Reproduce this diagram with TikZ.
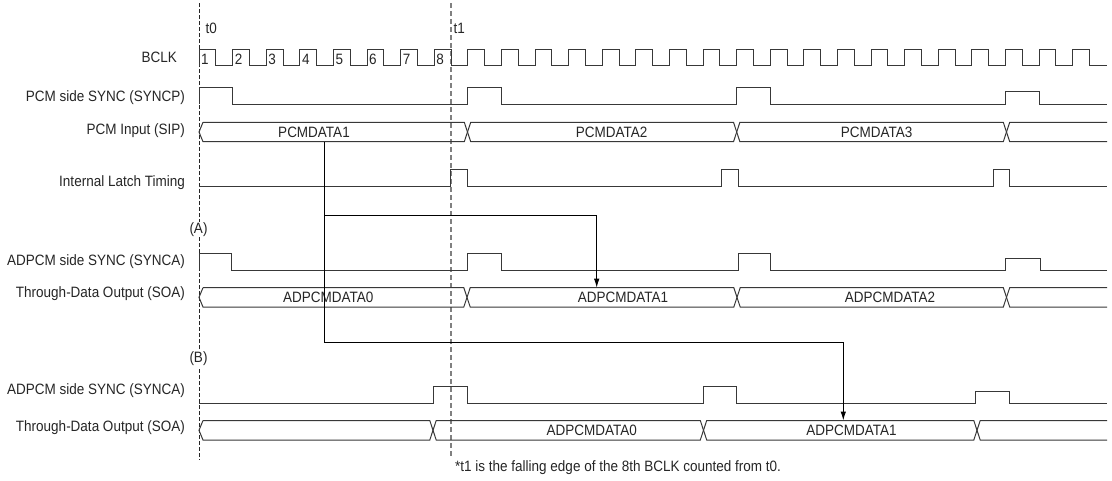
\documentclass[tikz,border=0pt]{standalone}
\usepackage{fontspec}
\setmainfont{Liberation Sans}[FakeStretch=0.9]
\usetikzlibrary{arrows.meta}
\newcommand{\lblfont}{\fontsize{15}{17}\selectfont}
\tikzset{
  sig/.style={line width=1pt, draw=black!78, line join=miter},
  lbl/.style={font=\lblfont, anchor=base east, inner sep=0pt, text=black!85},
  txt/.style={font=\lblfont, inner sep=0pt, text=black!85},
  num/.style={font=\lblfont, anchor=base west, inner sep=0pt, text=black!85},
  conn/.style={line width=1pt, draw=black, -{Latex[length=9pt,width=5.5pt]}},
  tzero/.style={line width=0.9pt, draw=black!85, dash pattern=on 4pt off 2pt},
  tone/.style={line width=1.2pt, draw=black!50, dash pattern=on 5pt off 3pt},
}
\begin{document}
\begin{tikzpicture}[x=1pt,y=-1pt]
\useasboundingbox[fill=white] (0,0) rectangle (1112,480);

% time markers
\coordinate (t0top) at (199,3);
\coordinate (t0bot) at (199,460);
\coordinate (t1top) at (451,3);
\coordinate (t1bot) at (451,458);
\draw[tzero] (t0top) -- (t0bot);
\draw[tone] (t1top) -- (t1bot);
\node[txt, anchor=base west] (t0) at (205.5,33) {t0};
\node[txt, anchor=base west] (t1) at (453.5,33) {t1};

% labels
\node[lbl] (lbclk) at (177,62.7) {BCLK};
\node[lbl] (lsyncp) at (185,101.5) {PCM side SYNC (SYNCP)};
\node[lbl] (lsip) at (185,134.5) {PCM Input (SIP)};
\node[lbl] (llatch) at (185,186.7) {Internal Latch Timing};
\node[lbl] (lsynca) at (185,265.5) {ADPCM side SYNC (SYNCA)};
\node[lbl] (lsoa) at (185,297.5) {Through-Data Output (SOA)};
\node[lbl] (lsyncb) at (185,394) {ADPCM side SYNC (SYNCA)};
\node[lbl] (lsob) at (185,431) {Through-Data Output (SOA)};

% BCLK
\draw[sig] (199,65.7) \foreach \k in {0,...,26} { -- ({199+\k*33.6},65.7) -- ({199+\k*33.6},49) -- ({215.8+\k*33.6},49) -- ({215.8+\k*33.6},65.7) } -- (1107,65.7);
\foreach \k in {1,...,8} \node[num] (n\k) at ({199+(\k-1)*33.6+2},64) {\k};

% SYNCP
\draw[sig] (199,104) -- (199,87) -- (232,87) -- (232,104) -- (467.5,104) -- (467.5,87) -- (501,87) -- (501,104)
  -- (736.7,104) -- (736.7,87) -- (770,87) -- (770,104) -- (1005.7,104) -- (1005.7,91.7) -- (1039.3,91.7) -- (1039.3,104) -- (1107,104);

% PCM input bus
\draw[sig] (203,122.3) -- (199,132) -- (203,141.7) -- (464.3,141.7) -- (470.7,122.3) -- (733.5,122.3) -- (739.9,141.7) -- (1003.3,141.7) -- (1009.7,122.3) -- (1107,122.3);
\draw[sig] (203,122.3) -- (464.3,122.3) -- (470.7,141.7) -- (733.5,141.7) -- (739.9,122.3) -- (1003.3,122.3) -- (1009.7,141.7) -- (1107,141.7);
\node[txt] (pcm1) at (314,132) {PCMDATA1};
\node[txt] (pcm2) at (611.7,132) {PCMDATA2};
\node[txt] (pcm3) at (876.7,132) {PCMDATA3};

% Internal latch
\draw[sig] (199,186) -- (450.7,186) -- (450.7,169.3) -- (467.3,169.3) -- (467.3,186) -- (721.7,186) -- (721.7,169.3) -- (738,169.3) -- (738,186)
  -- (993,186) -- (993,169.3) -- (1009,169.3) -- (1009,186) -- (1107,186);

% (A)
\draw[sig] (199,270.3) -- (199,253.3) -- (231.7,253.3) -- (231.7,270.3) -- (467.3,270.3) -- (467.3,253.3) -- (501.7,253.3) -- (501.7,270.3)
  -- (738,270.3) -- (738,253.3) -- (770.7,253.3) -- (770.7,270.3) -- (1005.7,270.3) -- (1005.7,258.3) -- (1040,258.3) -- (1040,270.3) -- (1107,270.3);
\draw[sig] (203,287.7) -- (199,297.3) -- (203,307) -- (463.8,307) -- (470.2,287.7) -- (733.8,287.7) -- (740.2,307) -- (1003.3,307) -- (1009.7,287.7) -- (1107,287.7);
\draw[sig] (203,287.7) -- (463.8,287.7) -- (470.2,307) -- (733.8,307) -- (740.2,287.7) -- (1003.3,287.7) -- (1009.7,307) -- (1107,307);
\node[txt] (a0) at (328.3,297.3) {ADPCMDATA0};
\node[txt] (a1) at (623,297.3) {ADPCMDATA1};
\node[txt] (a2) at (890,297.3) {ADPCMDATA2};

% (B)
\draw[sig] (199,403.3) -- (433,403.3) -- (433,386.7) -- (467,386.7) -- (467,403.3) -- (703.3,403.3) -- (703.3,386.7) -- (736.3,386.7) -- (736.3,403.3)
  -- (975.7,403.3) -- (975.7,391) -- (1009.3,391) -- (1009.3,403.3) -- (1107,403.3);
\draw[sig] (203,420.5) -- (199,430.3) -- (203,440) -- (429.8,440) -- (436.2,420.5) -- (700.3,420.5) -- (706.7,440) -- (973.8,440) -- (980.2,420.5) -- (1107,420.5);
\draw[sig] (203,420.5) -- (429.8,420.5) -- (436.2,440) -- (700.3,440) -- (706.7,420.5) -- (973.8,420.5) -- (980.2,440) -- (1107,440);
\node[txt] (b0) at (591.7,430.3) {ADPCMDATA0};
\node[txt] (b1) at (851.5,430.3) {ADPCMDATA1};

% section marks
\node[txt, fill=white, inner sep=1pt] (secA) at (198.5,229.5) {(A)};
\node[txt, fill=white, inner sep=1pt] (secB) at (198.5,359) {(B)};

% connectors
\coordinate (src) at (324.3,141.7);
\coordinate (kA) at (324.3,215.7);
\coordinate (kB) at (324.3,342.3);
\coordinate (dstA) at (596.7,287.7);
\coordinate (dstB) at (843.3,420.5);
\draw[conn] (src) -- (kB) -| (dstB);
\draw[conn] (kA) -| (dstA);

% note
\node[txt, anchor=base west] (note) at (455,471) {*t1 is the falling edge of the 8th BCLK counted from t0.};
\end{tikzpicture}
\end{document}
